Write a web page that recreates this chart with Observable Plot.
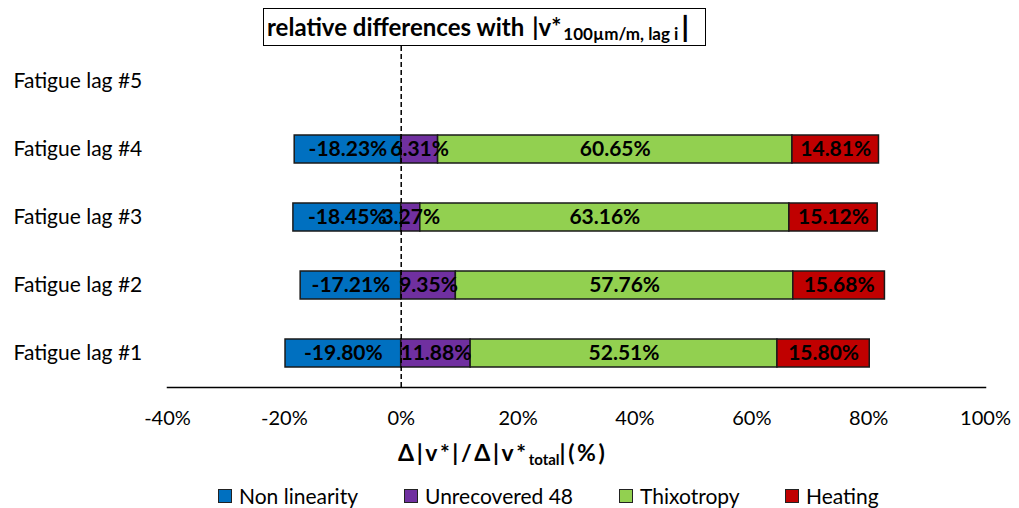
<!DOCTYPE html>
<html><head><meta charset="utf-8">
<script src="https://cdn.jsdelivr.net/npm/d3@7"></script>
<script src="https://cdn.jsdelivr.net/npm/@observablehq/plot@0.6"></script>
<style>
body{margin:0;background:#fff;font-family:Lato,"Open Sans",sans-serif;color:#000;}
#wrap{position:relative;width:1019px;height:508px;overflow:hidden;}
#title{position:absolute;left:263px;top:8px;width:443px;height:38px;border:1.5px solid #000;background:#fff;box-sizing:border-box;font-weight:bold;font-size:24px;line-height:34px;padding-left:3px;white-space:nowrap;}
#title sub{font-size:17px;vertical-align:-4px;line-height:0;margin-left:2px;}
#title .bar{font-size:28px;vertical-align:-1px;font-weight:900;margin-left:3px;}
#title .gap{display:inline-block;width:8px;}
#xlabel{position:absolute;left:398px;top:437px;font-weight:bold;font-size:23px;line-height:30px;white-space:nowrap;letter-spacing:2.6px;}
#xlabel sub{font-size:15px;vertical-align:-4px;line-height:0;letter-spacing:0;}
.leg{position:absolute;top:483px;font-size:21px;line-height:26px;display:flex;align-items:center;white-space:nowrap;}
.leg i{display:inline-block;width:14px;height:14px;border:1.5px solid #222;box-sizing:border-box;margin-right:7px;}
</style></head><body><div id="wrap"></div>
<script>
const lags = ["Fatigue lag #1","Fatigue lag #2","Fatigue lag #3","Fatigue lag #4","Fatigue lag #5"];
const components = ["Non linearity","Unrecovered 48","Thixotropy","Heating"];
const colors = ["#0070C0","#7030A0","#92D050","#C00000"];
const nonLinearity = [-19.80,-17.21,-18.45,-18.23,null];
const unrecovered48 = [11.88,9.35,3.27,6.31,null];
const thixotropy = [52.51,57.76,63.16,60.65,null];
const heating = [15.80,15.68,15.12,14.81,null];
const xTicks = [-40,-20,0,20,40,60,80,100];

const series = [nonLinearity, unrecovered48, thixotropy, heating];
const rows = [];
lags.forEach((lag,i)=>{
  series.forEach((s,k)=>{
    if (s[i] != null) rows.push({lag, component: components[k], value: s[i]});
  });
});

const font = "Lato, 'Open Sans', sans-serif";
const chart = Plot.plot({
  width:1019, height:508,
  marginLeft:167, marginRight:34, marginTop:46, marginBottom:121,
  style:{fontFamily:font, fontSize:"20px", color:"#000", background:"transparent", overflow:"visible"},
  x:{domain:[-40,100], ticks:xTicks},
  y:{domain:[...lags].reverse(), paddingInner:0.59, paddingOuter:0.275},
  color:{domain:components, range:colors},
  marks:[
    Plot.barX(rows, Plot.stackX({x:"value", y:"lag", fill:"component", stroke:"#1a1a1a", strokeWidth:1.5})),
    Plot.ruleX([0], {stroke:"#000", strokeDasharray:"5,3", strokeWidth:1.5}),
    Plot.text(rows, Plot.stackX({x:"value", y:"lag", text:d=>d.value.toFixed(2)+"%", fontWeight:"bold", fontSize:21, fill:"#000"})),
    Plot.axisX({ticks:xTicks, tickSize:0, tickPadding:23, tickFormat:d=>d+"%", label:null, fontSize:20}),
    Plot.axisY({tickSize:0, tickPadding:154, textAnchor:"start", label:null, fontSize:21}),
    Plot.frame({anchor:"bottom", stroke:"#000", strokeWidth:1.5})
  ]
});
const wrap = document.getElementById("wrap");
wrap.appendChild(chart);

const title = document.createElement("div");
title.id = "title";
title.innerHTML = 'relative differences with<span class="gap"></span>|v*<sub>100µm/m, lag i</sub><span class="bar">|</span>';
wrap.appendChild(title);

const xl = document.createElement("div");
xl.id = "xlabel";
xl.innerHTML = 'Δ|v*|/Δ|v*<sub>total</sub>|(%)';
wrap.appendChild(xl);

const legX = [218,404,619,785];
components.forEach((c,k)=>{
  const d = document.createElement("div");
  d.className = "leg";
  d.style.left = legX[k]+"px";
  d.innerHTML = `<i style="background:${colors[k]}"></i>${c}`;
  wrap.appendChild(d);
});
</script>
</body></html>
